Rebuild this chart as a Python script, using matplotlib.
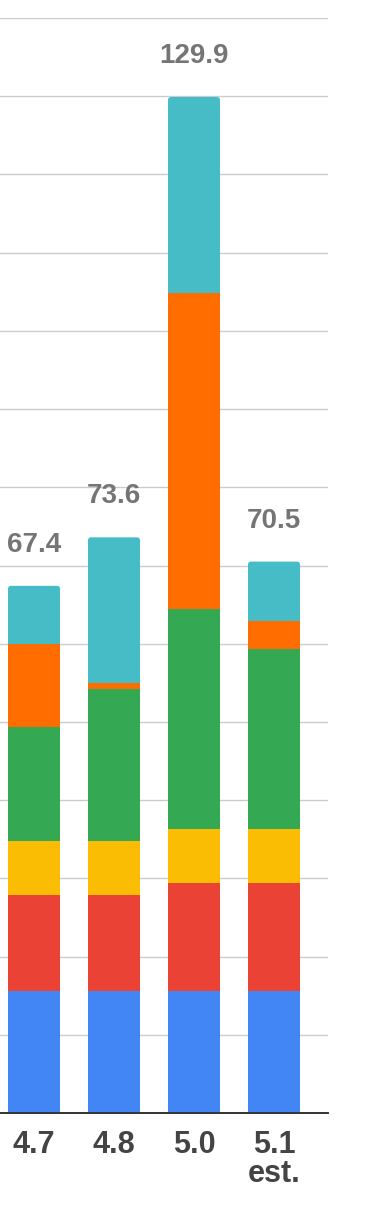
import numpy as np
import matplotlib.pyplot as plt
from matplotlib.patches import FancyBboxPatch

versions = ["4.7", "4.8", "5.0", "5.1\nest."]
totals = [67.4, 73.6, 129.9, 70.5]
blue = [15.6, 15.6, 15.6, 15.6]
red = [12.3, 12.3, 13.8, 13.8]
yellow = [6.9, 6.9, 6.9, 6.9]
green = [14.6, 19.4, 28.1, 23.0]
orange = [10.5, 0.8, 40.4, 3.6]
teal = [7.5, 18.6, 25.1, 7.6]

series = [blue, red, yellow, green, orange, teal]
colors = ["#4285F4", "#EA4335", "#FBBC04", "#34A853", "#FF6D00", "#46BDC6"]

plt.rcParams['font.family'] = ['Liberation Sans', 'DejaVu Sans']

fig = plt.figure(figsize=(3.72, 12.22), dpi=100)
ax = fig.add_axes([0, 109 / 1222, 328 / 372, 1095 / 1222])

w = 0.65
rx = 0.04   # corner radius in x data units (~3 px)
aspect = (1 / 7.82) / (1 / 80.0)  # y units per x unit at equal pixel size
ry = rx * aspect

x = np.arange(len(versions))
bottom = np.zeros(len(versions))
for k, (vals, c) in enumerate(zip(series, colors)):
    vals = np.array(vals)
    if k < len(series) - 1:
        ax.bar(x, vals, bottom=bottom, width=w, color=c, linewidth=0, zorder=2)
    else:
        # top segment: square bottom, rounded top corners
        ax.bar(x, vals - ry, bottom=bottom, width=w, color=c, linewidth=0, zorder=2)
        for xi, b, v in zip(x, bottom, vals):
            top = b + v
            p = FancyBboxPatch((xi - w / 2 + rx, top - 2 * ry), w - 2 * rx, ry,
                               boxstyle=f"round,pad={rx},rounding_size={rx}",
                               mutation_aspect=aspect, facecolor=c,
                               linewidth=0, zorder=2)
            ax.add_patch(p)
    bottom += vals

for xi, t in zip(x, totals):
    ax.annotate(f"{t}", (xi, t), xytext=(0, 24.5), textcoords="offset points",
                ha="center", va="baseline", fontsize=20, fontweight="bold",
                color="#757575")

ax.set_xlim(-0.425, 3.675)
ax.set_ylim(0, 140)
ax.set_yticks(np.arange(0, 141, 10))
ax.yaxis.grid(True, color="#cccccc", linewidth=1.0, zorder=0)
ax.set_axisbelow(True)
ax.tick_params(axis="y", left=False, labelleft=False)
ax.set_xticks(x)
ax.set_xticklabels(versions, fontsize=22, fontweight="bold", color="#444444",
                   linespacing=0.95)
ax.tick_params(axis="x", length=0, pad=12)
for s in ["left", "right", "top"]:
    ax.spines[s].set_visible(False)
ax.spines["bottom"].set_color("#333333")
ax.spines["bottom"].set_linewidth(1.4)
ax.spines["bottom"].set_zorder(3)

fig.savefig("out.png", dpi=100)
